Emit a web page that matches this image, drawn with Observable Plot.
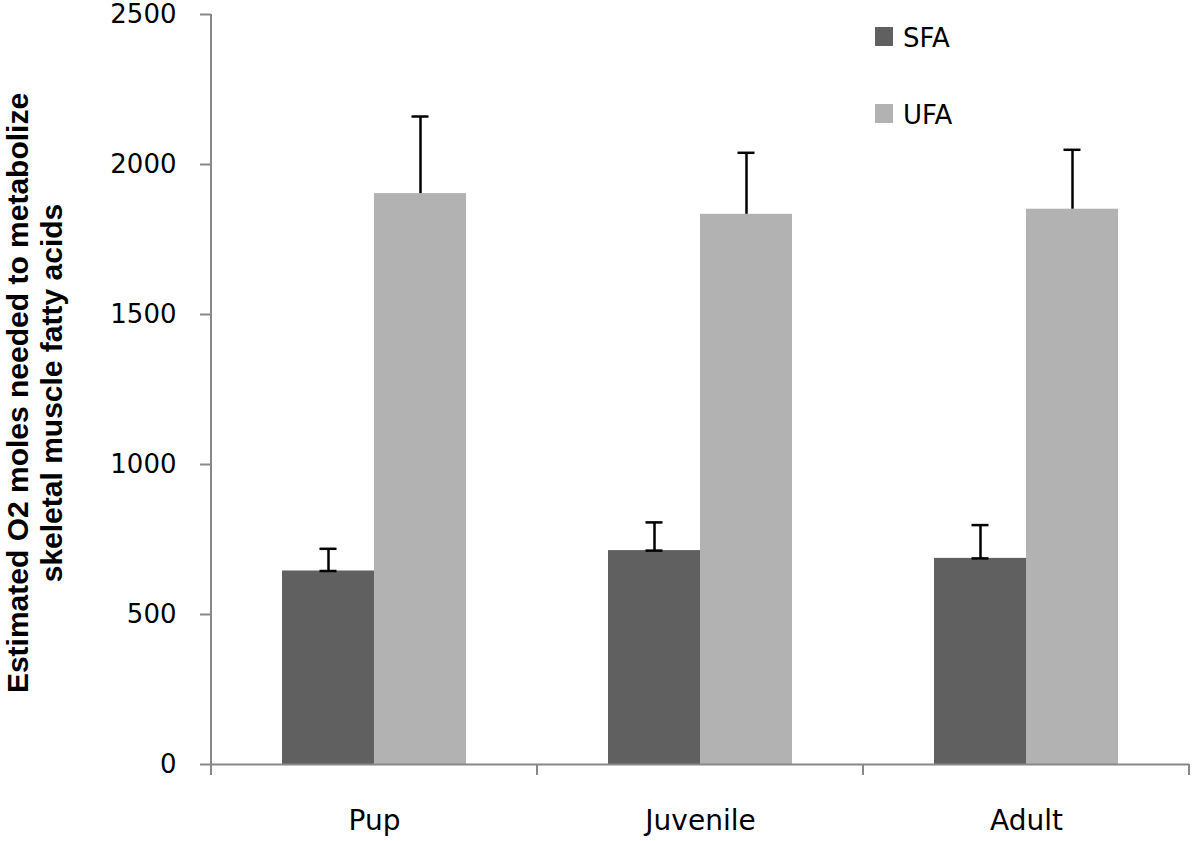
<!DOCTYPE html>
<html>
<head>
<meta charset="utf-8">
<script src="https://cdn.jsdelivr.net/npm/d3@7"></script>
<script src="https://cdn.jsdelivr.net/npm/@observablehq/plot@0.6"></script>
<style>
  html, body { margin: 0; padding: 0; background: #fff; }
  #wrap { position: relative; width: 1196px; height: 841px; overflow: hidden; background: #fff; }
  #ylabel {
    position: absolute; left: 35px; top: 393px;
    transform: translate(-50%, -50%) rotate(-90deg);
    font-family: "Liberation Sans", Arial, sans-serif; font-weight: bold;
    font-size: 30px; line-height: 34px; text-align: center; white-space: nowrap; color: #000;
  }
  .lg-sw { position: absolute; width: 18px; height: 19px; }
  .lg-tx { position: absolute; font-family: "DejaVu Sans", sans-serif; font-size: 26px; line-height: 26px; color: #000; white-space: nowrap; }
</style>
</head>
<body>
<div id="wrap"></div>
<script>
// ---- data ----
const categories = ["Pup", "Juvenile", "Adult"];
const series = ["SFA", "UFA"];
const sfaValues = [645, 713, 687];
const sfaErrors = [74, 94, 111];
const ufaValues = [1903, 1834, 1851];
const ufaErrors = [257, 205, 198];
const yTicks = [0, 500, 1000, 1500, 2000, 2500];
const seriesColors = ["#606060", "#b2b2b2"];
const yLabelLines = ["Estimated O2 moles needed to metabolize", "skeletal muscle fatty acids"];

const rows = [];
categories.forEach((c, i) => {
  rows.push({category: c, series: "SFA", value: sfaValues[i], top: sfaValues[i] + sfaErrors[i]});
  rows.push({category: c, series: "UFA", value: ufaValues[i], top: ufaValues[i] + ufaErrors[i]});
});

const wrap = document.getElementById("wrap");

const plot = Plot.plot({
  width: 1196,
  height: 841,
  marginLeft: 210,
  marginRight: 6,
  marginTop: 14,
  marginBottom: 77,
  style: {fontFamily: "'DejaVu Sans', sans-serif", fontSize: "26px", color: "#000", background: "#fff", overflow: "visible"},
  fx: {domain: categories, padding: 0, label: null},
  x: {domain: series, paddingInner: 0, paddingOuter: 0.753, axis: null},
  y: {domain: [yTicks[0], yTicks[yTicks.length - 1]], label: null},
  color: {domain: series, range: seriesColors},
  marks: [
    Plot.barY(rows, {fx: "category", x: "series", y: "value", fill: "series"}),
    Plot.ruleY([0], {stroke: "#888", strokeWidth: 2}),
    Plot.ruleX(rows, {fx: "category", x: "series", y1: "value", y2: "top", stroke: "#000", strokeWidth: 2.5}),
    Plot.tickY(rows, {fx: "category", x: "series", y: "top", stroke: "#000", strokeWidth: 2.5, insetLeft: 37.5, insetRight: 37.5}),
    Plot.tickY(rows.filter(d => d.series === "SFA"), {fx: "category", x: "series", y: "value", stroke: "#000", strokeWidth: 2.5, insetLeft: 37.5, insetRight: 37.5}),
    Plot.axisY({ticks: yTicks, tickSize: 11, tickPadding: 24, stroke: "#888", strokeWidth: 2, fill: "#000", fontSize: 26, label: null, tickFormat: d => String(d)}),
    Plot.axisFx({anchor: "bottom", tickSize: 0, tickPadding: 46, fill: "#000", fontSize: 28, label: null})
  ]
});
wrap.appendChild(plot);

// axis line and category boundary ticks, placed with the plot's own scales
const fxS = plot.scale("fx");
const yS = plot.scale("y");
const starts = categories.map(c => fxS.apply(c));
const bw = fxS.bandwidth != null ? fxS.bandwidth : fxS.step;
const bounds = [...starts, starts[starts.length - 1] + bw];
const y0 = yS.apply(yTicks[0]);
const yTop = yS.apply(yTicks[yTicks.length - 1]);
const g = d3.select(plot).append("g").attr("stroke", "#888").attr("stroke-width", 2);
g.append("line").attr("x1", bounds[0]).attr("x2", bounds[0]).attr("y1", yTop).attr("y2", y0);
bounds.forEach(b => g.append("line").attr("x1", b).attr("x2", b).attr("y1", y0).attr("y2", y0 + 11));

// y label
const yl = document.createElement("div");
yl.id = "ylabel";
yl.innerHTML = yLabelLines.map(s => `<div>${s}</div>`).join("");
wrap.appendChild(yl);

// legend
const legendTops = [25, 102];
series.forEach((s, i) => {
  const sw = document.createElement("div");
  sw.className = "lg-sw";
  sw.style.left = "875px";
  sw.style.top = (legendTops[i] + 2) + "px";
  sw.style.background = seriesColors[i];
  wrap.appendChild(sw);
  const tx = document.createElement("div");
  tx.className = "lg-tx";
  tx.style.left = "903px";
  tx.style.top = legendTops[i] + "px";
  tx.textContent = s;
  wrap.appendChild(tx);
});
</script>
</body>
</html>
